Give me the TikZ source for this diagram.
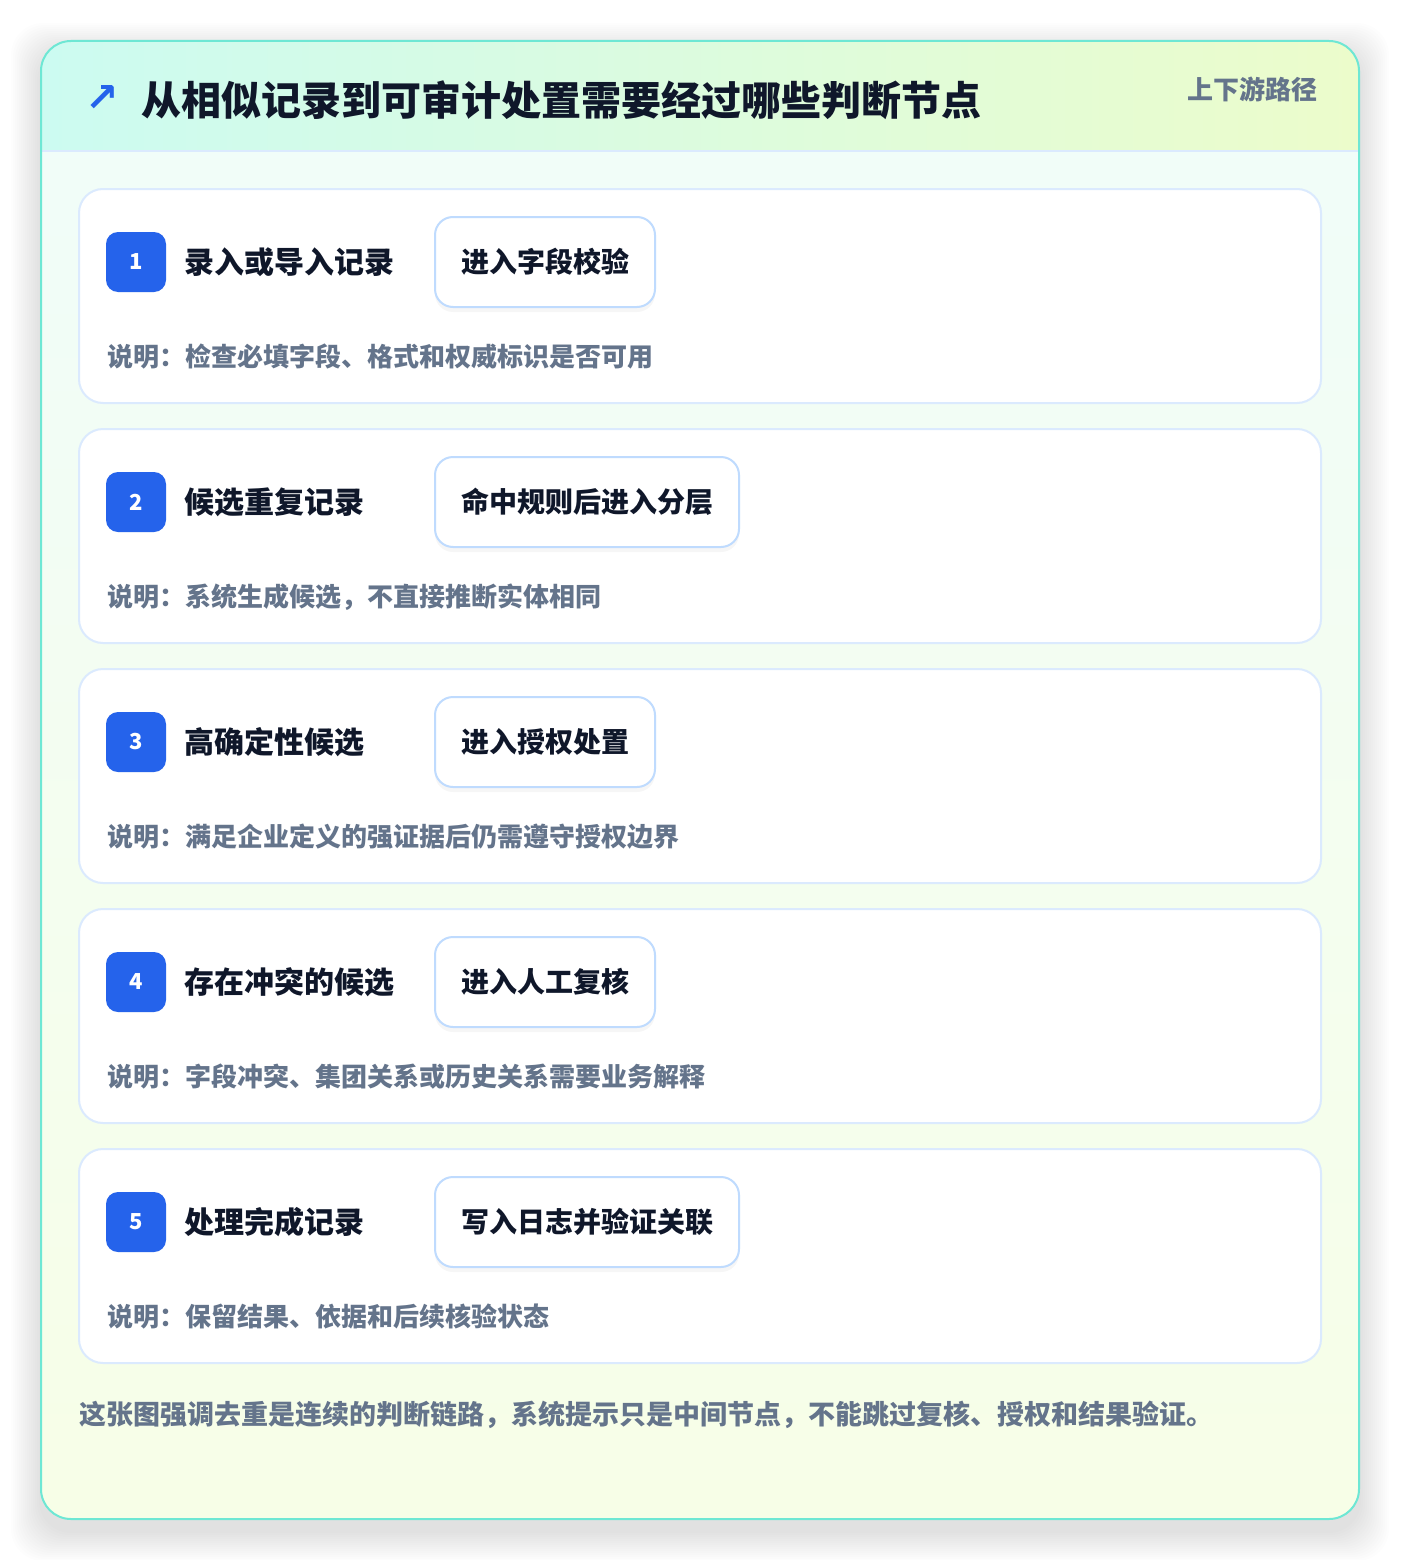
\documentclass[tikz,border=0pt]{standalone}
\usepackage{fontspec}
\setmainfont{Noto Sans CJK SC}
\newfontfamily\symfont{DejaVu Sans}
\usetikzlibrary{positioning}
\usetikzlibrary{shadows}
\definecolor{brandblue}{HTML}{2563EB}
\definecolor{inkdark}{HTML}{0F172A}
\definecolor{inkgray}{HTML}{64748B}
\definecolor{cardline}{HTML}{DBEAFE}
\definecolor{pillline}{HTML}{BFDBFE}
\definecolor{frameteal}{HTML}{6EE7D4}
\definecolor{headleft}{HTML}{CCFBF1}
\definecolor{headright}{HTML}{ECFCCB}
\definecolor{bodytop}{HTML}{F0FDFA}
\definecolor{bodybottom}{HTML}{F7FEE7}
\tikzset{
  stepcard/.style={draw=cardline, line width=2pt, fill=white, outer sep=0pt,
    rounded corners=24pt, minimum width=1242pt, minimum height=214pt, inner sep=0pt},
  badge/.style={fill=brandblue, rounded corners=12pt, minimum size=60pt, inner sep=0pt,
    outer sep=0pt, text=white, font=\bfseries\fontsize{22}{22}\selectfont},
  steptitle/.style={anchor=west, inner sep=0pt, text=inkdark,
    font=\bfseries\fontsize{30}{30}\selectfont},
  pill/.style={draw=pillline, line width=2pt, fill=white, rounded corners=18pt,
    minimum height=90pt, inner xsep=26pt, inner ysep=0pt, outer sep=0pt, text=inkdark,
    font=\bfseries\fontsize{28}{28}\selectfont,
    drop shadow={shadow xshift=0pt, shadow yshift=-5pt, opacity=0.035, fill=black}},
  note/.style={anchor=west, inner sep=0pt, text=inkgray,
    font=\bfseries\fontsize{26}{26}\selectfont},
}

\begin{document}
\begin{tikzpicture}[x=1pt, y=-1pt]
 \useasboundingbox (0,0) rectangle (1400,1560);
 \fill[white] (0,0) rectangle (1400,1560);

 % Soft shadow of the frame
 \foreach \s in {2,4,...,30}
   \fill[black, fill opacity=0.006, rounded corners=32pt]
     (41-\s,53-\s) rectangle (1359+\s,1531+\s);

 % Frame with header band
 \begin{scope}
  \clip[rounded corners=30pt] (41,41) rectangle (1359,1519);
  \fill[top color=bodytop, bottom color=bodybottom] (41,41) rectangle (1359,1519);
  \fill[left color=headleft, right color=headright] (41,41) rectangle (1359,151);
  \draw[cardline, line width=2pt] (41,151) -- (1359,151);
 \end{scope}
 \draw[frameteal, line width=2pt, rounded corners=30pt] (41,41) rectangle (1359,1519);

 % Header
 \node[text=brandblue, inner sep=0pt, font=\symfont\bfseries\fontsize{40}{40}\selectfont]
   (arrow) at (102,99) {↗};
 \node[anchor=west, inner sep=0pt, text=inkdark, font=\bfseries\fontsize{40}{40}\selectfont]
   (title) at (141,100) {从相似记录到可审计处置需要经过哪些判断节点};
 \node[anchor=east, inner sep=0pt, text=inkgray, font=\bfseries\fontsize{26}{26}\selectfont]
   (tag) at (1318,89) {上下游路径};

 % Step 1
 \node[stepcard] (card1) at (700,296) {};
 \node[badge] (badge1) at ([xshift=57pt,yshift=-73pt]card1.north west) {1};
 \node[steptitle, right=18pt of badge1] (title1) {录入或导入记录};
 \node[pill, right=269pt of badge1] (pill1) {进入字段校验};
 \node[note] (note1) at ([xshift=1pt,yshift=-95pt]badge1.west) {说明：检查必填字段、格式和权威标识是否可用};

 % Step 2
 \node[stepcard, below=26pt of card1] (card2) {};
 \node[badge] (badge2) at ([xshift=57pt,yshift=-73pt]card2.north west) {2};
 \node[steptitle, right=18pt of badge2] (title2) {候选重复记录};
 \node[pill, right=269pt of badge2] (pill2) {命中规则后进入分层};
 \node[note] (note2) at ([xshift=1pt,yshift=-95pt]badge2.west) {说明：系统生成候选，不直接推断实体相同};

 % Step 3
 \node[stepcard, below=26pt of card2] (card3) {};
 \node[badge] (badge3) at ([xshift=57pt,yshift=-73pt]card3.north west) {3};
 \node[steptitle, right=18pt of badge3] (title3) {高确定性候选};
 \node[pill, right=269pt of badge3] (pill3) {进入授权处置};
 \node[note] (note3) at ([xshift=1pt,yshift=-95pt]badge3.west) {说明：满足企业定义的强证据后仍需遵守授权边界};

 % Step 4
 \node[stepcard, below=26pt of card3] (card4) {};
 \node[badge] (badge4) at ([xshift=57pt,yshift=-73pt]card4.north west) {4};
 \node[steptitle, right=18pt of badge4] (title4) {存在冲突的候选};
 \node[pill, right=269pt of badge4] (pill4) {进入人工复核};
 \node[note] (note4) at ([xshift=1pt,yshift=-95pt]badge4.west) {说明：字段冲突、集团关系或历史关系需要业务解释};

 % Step 5
 \node[stepcard, below=26pt of card4] (card5) {};
 \node[badge] (badge5) at ([xshift=57pt,yshift=-73pt]card5.north west) {5};
 \node[steptitle, right=18pt of badge5] (title5) {处理完成记录};
 \node[pill, right=269pt of badge5] (pill5) {写入日志并验证关联};
 \node[note] (note5) at ([xshift=1pt,yshift=-95pt]badge5.west) {说明：保留结果、依据和后续核验状态};

 % Footer
 \node[anchor=west, inner sep=0pt, text=inkgray, font=\bfseries\fontsize{27}{27}\selectfont]
   (footer) at (79,1415) {这张图强调去重是连续的判断链路，系统提示只是中间节点，不能跳过复核、授权和结果验证。};
\end{tikzpicture}
\end{document}
